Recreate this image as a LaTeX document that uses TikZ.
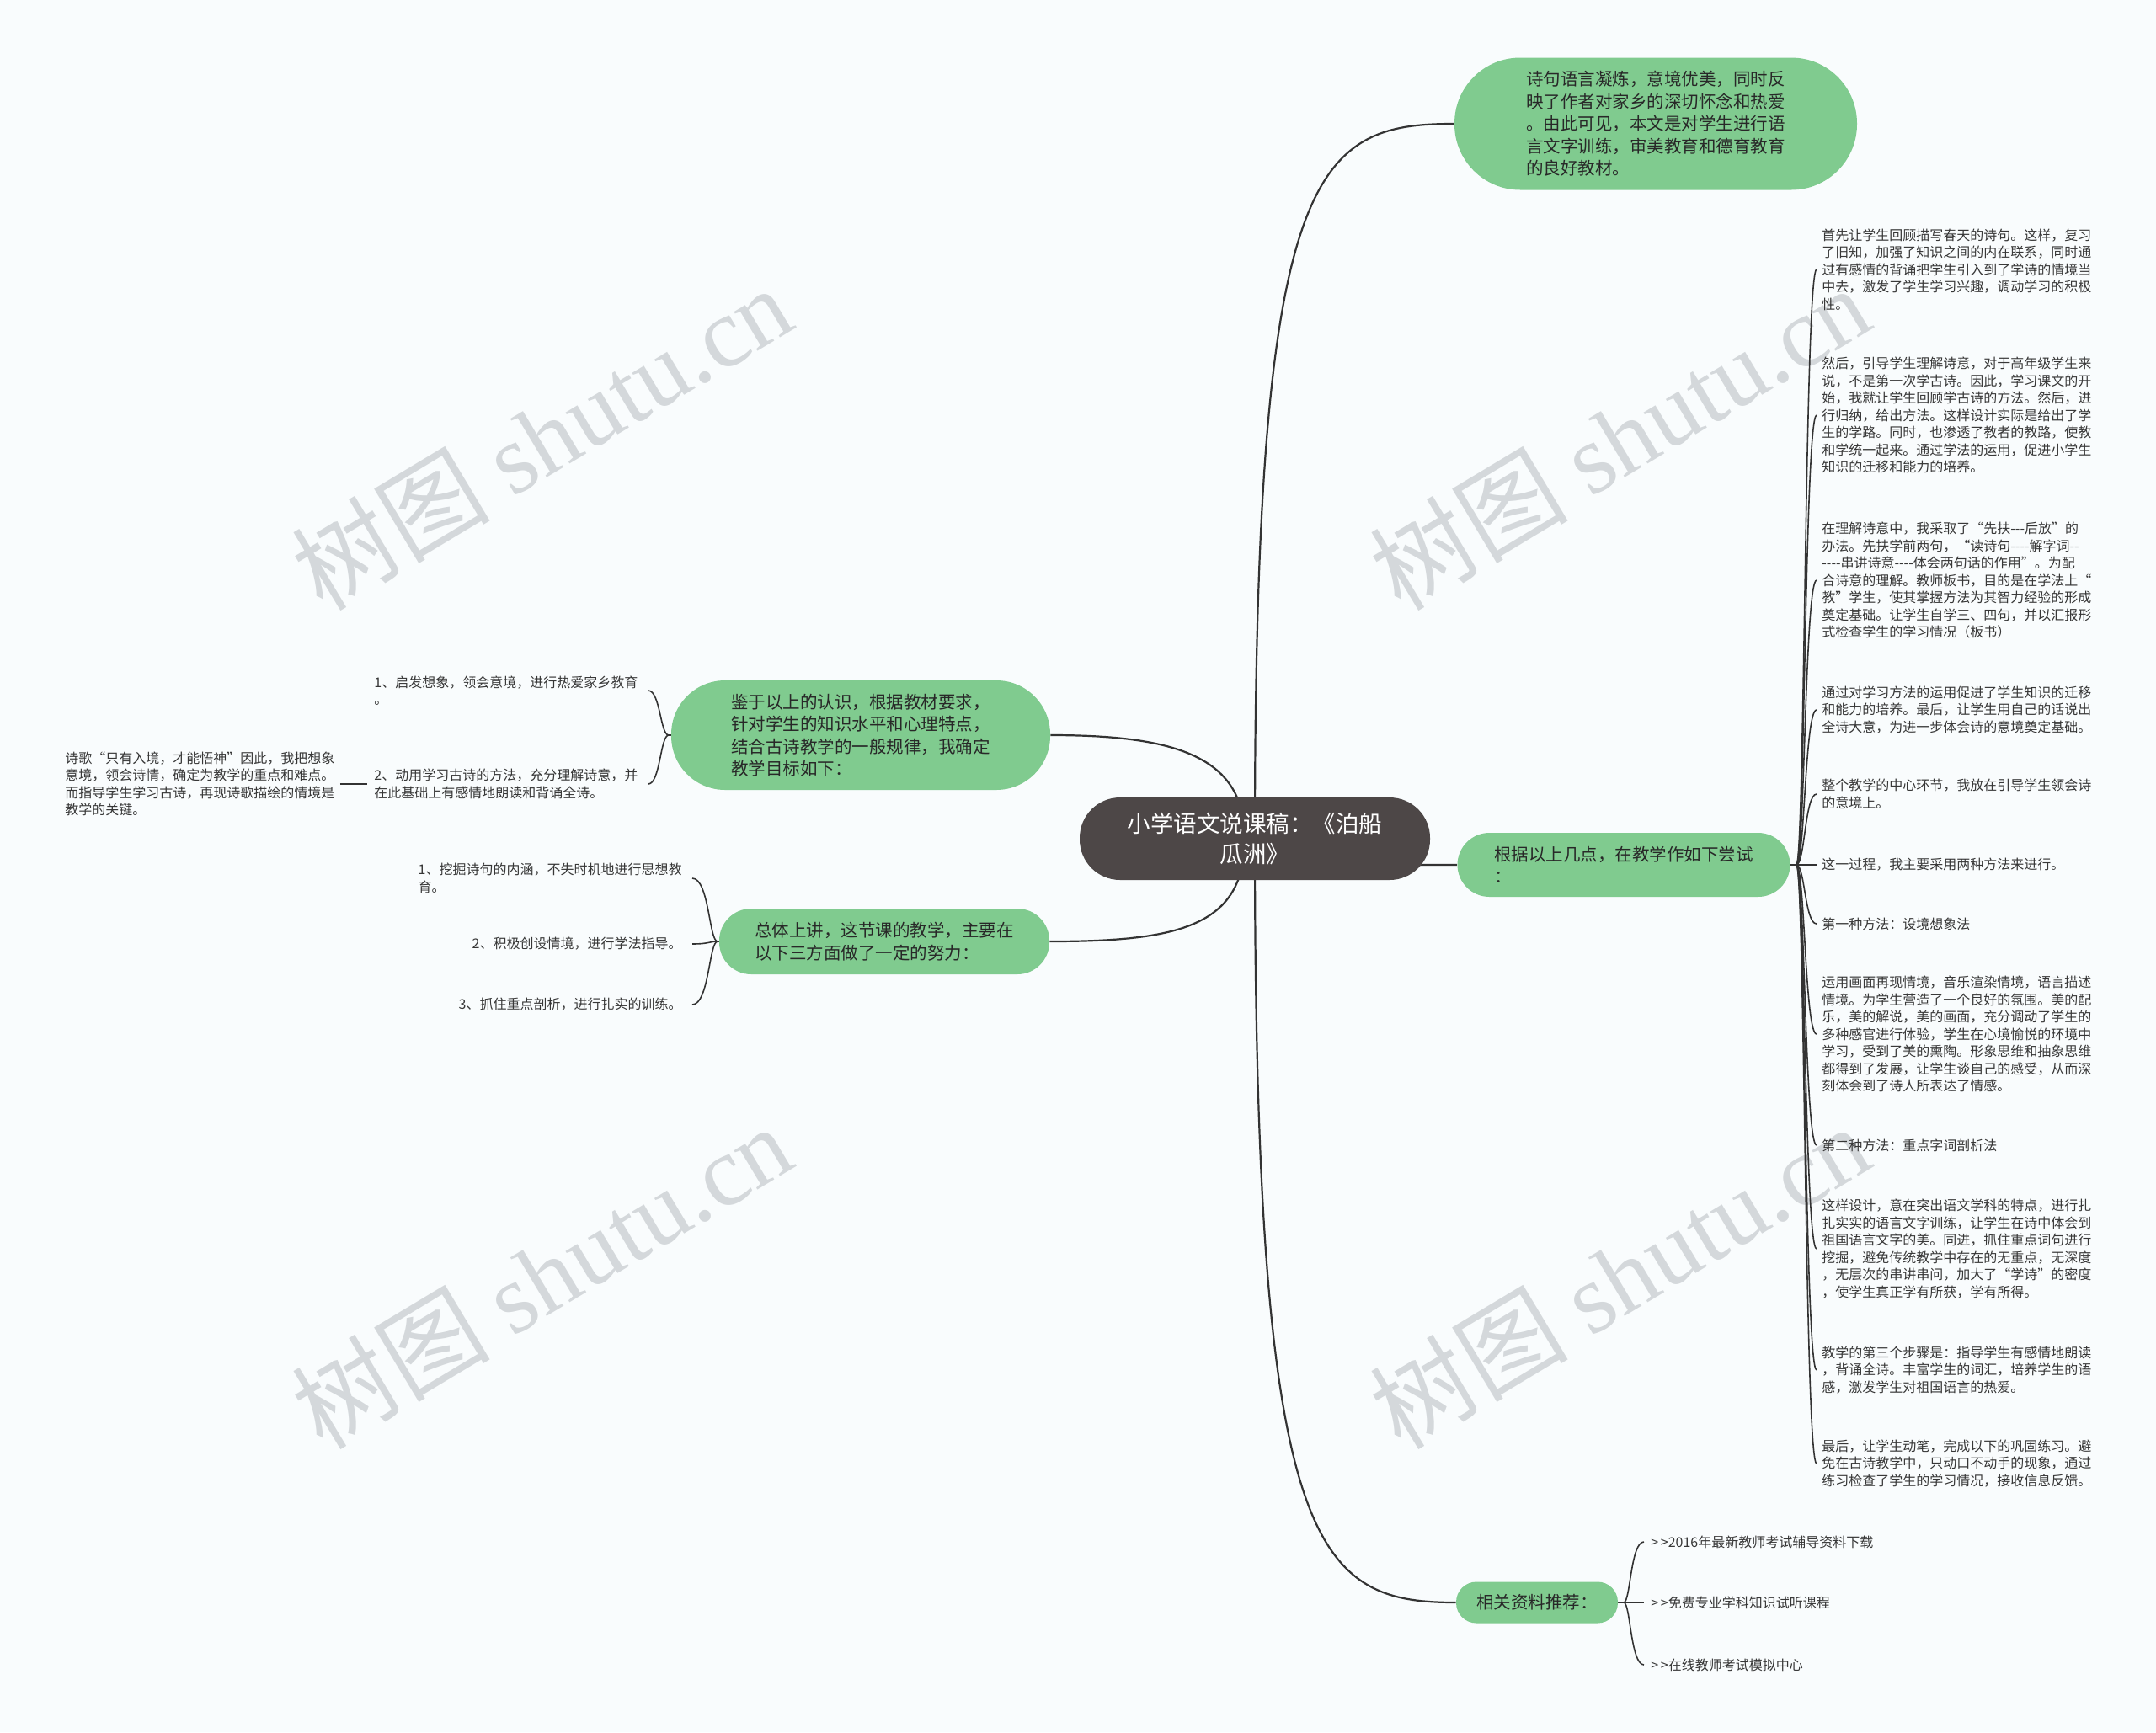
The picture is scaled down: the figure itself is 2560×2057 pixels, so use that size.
\documentclass[tikz,border=0pt]{standalone}
\usepackage{fontspec}
\setmainfont{Noto Sans CJK SC}
\newfontfamily\wmlatin{Liberation Serif}
\usetikzlibrary{backgrounds}
\definecolor{bg}{RGB}{249,252,253}
\definecolor{nodegreen}{RGB}{128,203,143}
\definecolor{centralgray}{RGB}{77,71,71}
\definecolor{linegray}{RGB}{51,51,51}
\definecolor{textdark}{RGB}{40,40,40}
\definecolor{leaftext}{RGB}{55,55,55}
\definecolor{wmgray}{RGB}{212,216,219}
\tikzset{
  pill/.style={fill=nodegreen, draw=none, inner sep=0pt, align=left, text=textdark,
    font=\fontsize{10.25pt}{13.25pt}\selectfont},
  centralnode/.style={fill=centralgray, draw=none, inner sep=0pt, align=center, text=white,
    font=\fontsize{13.75pt}{18pt}\selectfont},
  leaf/.style={inner sep=0pt, align=left, text=leaftext, font=\fontsize{8pt}{10.25pt}\selectfont},
  mainline/.style={draw=linegray, line width=1.1pt},
  branchline/.style={draw=linegray, line width=0.8pt},
  watermark/.style={text=wmgray, rotate=31, inner sep=0pt, font=\fontsize{59pt}{59pt}\selectfont},
}
\begin{document}
\begin{tikzpicture}[x=0.5pt, y=-0.5pt]
\begin{scope}[on background layer]
  \fill[bg] (0,0) rectangle (2560,2057);
  \node[watermark] (wm1) at (643,519) {树图 {\wmlatin shutu.cn}};
  \node[watermark] (wm2) at (1923,519) {树图 {\wmlatin shutu.cn}};
  \node[watermark] (wm3) at (643,1515) {树图 {\wmlatin shutu.cn}};
  \node[watermark] (wm4) at (1923,1515) {树图 {\wmlatin shutu.cn}};
\end{scope}
\useasboundingbox (0,0) rectangle (2560,2057);

% central and main nodes
\node[centralnode, minimum width=208pt, minimum height=49pt, rounded corners=24pt] (C) at (1490,996)
  {小学语文说课稿：《泊船\\瓜洲》};
\node[pill, minimum width=239pt, minimum height=78.5pt, rounded corners=39pt] (T) at (1966,147)
  {诗句语言凝炼，意境优美，同时反\\映了作者对家乡的深切怀念和热爱\\。由此可见，本文是对学生进行语\\言文字训练，审美教育和德育教育\\的良好教材。};
\node[pill, minimum width=197.5pt, minimum height=38pt, rounded corners=19pt] (G) at (1928,1027)
  {根据以上几点，在教学作如下尝试\\：};
\node[pill, minimum width=96pt, minimum height=24.5pt, rounded corners=12pt, align=center] (R) at (1825,1903)
  {相关资料推荐：};
\node[pill, minimum width=225pt, minimum height=65pt, rounded corners=32pt] (J) at (1022,873)
  {鉴于以上的认识，根据教材要求，\\针对学生的知识水平和心理特点，\\结合古诗教学的一般规律，我确定\\教学目标如下：};
\node[pill, minimum width=196pt, minimum height=39pt, rounded corners=19pt] (Z) at (1050,1118)
  {总体上讲，这节课的教学，主要在\\以下三方面做了一定的努力：};

% right column leaves
\node[leaf, anchor=west] (r1) at (2163,320) {首先让学生回顾描写春天的诗句。这样，复习\\了旧知，加强了知识之间的内在联系，同时通\\过有感情的背诵把学生引入到了学诗的情境当\\中去，激发了学生学习兴趣，调动学习的积极\\性。};
\node[leaf, anchor=west] (r2) at (2163,493) {然后，引导学生理解诗意，对于高年级学生来\\说，不是第一次学古诗。因此，学习课文的开\\始，我就让学生回顾学古诗的方法。然后，进\\行归纳，给出方法。这样设计实际是给出了学\\生的学路。同时，也渗透了教者的教路，使教\\和学统一起来。通过学法的运用，促进小学生\\知识的迁移和能力的培养。};
\node[leaf, anchor=west] (r3) at (2163,689) {在理解诗意中，我采取了“先扶-{}-{}-后放”的\\办法。先扶学前两句，“读诗句-{}-{}-{}-解字词-{}-\\-{}-{}-{}-串讲诗意-{}-{}-{}-体会两句话的作用”。为配\\合诗意的理解。教师板书，目的是在学法上“\\教”学生，使其掌握方法为其智力经验的形成\\奠定基础。让学生自学三、四句，并以汇报形\\式检查学生的学习情况（板书）};
\node[leaf, anchor=west] (r4) at (2163,843) {通过对学习方法的运用促进了学生知识的迁移\\和能力的培养。最后，让学生用自己的话说出\\全诗大意，为进一步体会诗的意境奠定基础。};
\node[leaf, anchor=west] (r5) at (2163,943) {整个教学的中心环节，我放在引导学生领会诗\\的意境上。};
\node[leaf, anchor=west] (r6) at (2163,1027) {这一过程，我主要采用两种方法来进行。};
\node[leaf, anchor=west] (r7) at (2163,1097) {第一种方法：设境想象法};
\node[leaf, anchor=west] (r8) at (2163,1228) {运用画面再现情境，音乐渲染情境，语言描述\\情境。为学生营造了一个良好的氛围。美的配\\乐，美的解说，美的画面，充分调动了学生的\\多种感官进行体验，学生在心境愉悦的环境中\\学习，受到了美的熏陶。形象思维和抽象思维\\都得到了发展，让学生谈自己的感受，从而深\\刻体会到了诗人所表达了情感。};
\node[leaf, anchor=west] (r9) at (2163,1360) {第二种方法：重点字词剖析法};
\node[leaf, anchor=west] (r10) at (2163,1483) {这样设计，意在突出语文学科的特点，进行扎\\扎实实的语言文字训练，让学生在诗中体会到\\祖国语言文字的美。同进，抓住重点词句进行\\挖掘，避免传统教学中存在的无重点，无深度\\，无层次的串讲串问，加大了“学诗”的密度\\，使学生真正学有所获，学有所得。};
\node[leaf, anchor=west] (r11) at (2163,1627) {教学的第三个步骤是：指导学生有感情地朗读\\，背诵全诗。丰富学生的词汇，培养学生的语\\感，激发学生对祖国语言的热爱。};
\node[leaf, anchor=west] (r12) at (2163,1738) {最后，让学生动笔，完成以下的巩固练习。避\\免在古诗教学中，只动口不动手的现象，通过\\练习检查了学生的学习情况，接收信息反馈。};

% resources leaves
\node[leaf, anchor=west] (s1) at (1960,1831) {>\,>2016年最新教师考试辅导资料下载};
\node[leaf, anchor=west] (s2) at (1960,1903) {>\,>免费专业学科知识试听课程};
\node[leaf, anchor=west] (s3) at (1960,1977) {>\,>在线教师考试模拟中心};

% left leaves
\node[leaf, anchor=west] (L1) at (444,820) {1、启发想象，领会意境，进行热爱家乡教育\\。};
\node[leaf, anchor=west] (L2) at (444,931) {2、动用学习古诗的方法，充分理解诗意，并\\在此基础上有感情地朗读和背诵全诗。};
\node[leaf, anchor=west] (L2a) at (77,931) {诗歌“只有入境，才能悟神”因此，我把想象\\意境，领会诗情，确定为教学的重点和难点。\\而指导学生学习古诗，再现诗歌描绘的情境是\\教学的关键。};
\node[leaf, anchor=east] (Z1) at (810,1043) {1、挖掘诗句的内涵，不失时机地进行思想教\\育。};
\node[leaf, anchor=east] (Z2) at (810,1121) {2、积极创设情境，进行学法指导。};
\node[leaf, anchor=east] (Z3) at (810,1193) {3、抓住重点剖析，进行扎实的训练。};

\begin{scope}[on background layer]
  % main connectors
  \draw[mainline] (C.center) .. controls (1490,200) and (1560,147) .. (T.west);
  \draw[mainline] (C.center) .. controls (1490,1840) and (1560,1903) .. (R.west);
  \draw[mainline] (C.center) .. controls (1540,1027) and (1600,1027) .. (G.west);
  \draw[mainline] ([xshift=-6pt]C.center) .. controls (1478,900) and (1400,873) .. (J.east);
  \draw[mainline] ([xshift=-6pt]C.center) .. controls (1478,1100) and (1400,1118) .. (Z.east);
  % right bracket
  \coordinate (gb) at (2133,1027);
  \draw[branchline] (G.east) -- (gb);
  \foreach \n/\y in {r1/320,r2/493,r3/689,r4/843,r5/943,r6/1027,r7/1097,r8/1228,r9/1360,r10/1483,r11/1627,r12/1738}
    \draw[branchline] (gb) .. controls (2143,1027) and (2143,\y) .. ([xshift=-3pt]\n.west);
  % resources bracket
  \coordinate (rb) at (1928,1903);
  \draw[branchline] (R.east) -- (rb);
  \foreach \n/\y in {s1/1831,s2/1903,s3/1977}
    \draw[branchline] (rb) .. controls (1936,1903) and (1936,\y) .. ([xshift=-4pt]\n.west);
  % J bracket
  \coordinate (jb) at (794,873);
  \draw[branchline] (J.west) -- (jb);
  \foreach \n/\y in {L1/820,L2/931}
    \draw[branchline] (jb) .. controls (784,873) and (784,\y) .. ([xshift=6pt]\n.east);
  \draw[branchline] ([xshift=3pt]L2a.east) -- ([xshift=-4pt]L2.west);
  % Z bracket
  \coordinate (zb) at (852,1118);
  \draw[branchline] (Z.west) -- (zb);
  \foreach \n/\y in {Z1/1043,Z2/1121,Z3/1193}
    \draw[branchline] (zb) .. controls (842,1118) and (842,\y) .. ([xshift=6pt]\n.east);
\end{scope}
\end{tikzpicture}
\end{document}
